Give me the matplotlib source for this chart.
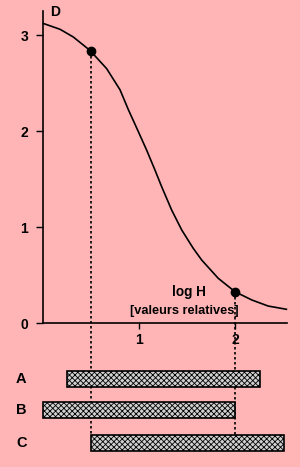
import matplotlib
matplotlib.use("Agg")
import matplotlib.pyplot as plt

plt.rcParams['font.family'] = ['Liberation Sans', 'DejaVu Sans']
plt.rcParams['hatch.linewidth'] = 0.6

# Curve D vs log H
log_h = [0.0, 0.172, 0.31, 0.484, 0.658, 0.797, 0.883, 0.9875, 1.075, 1.161,
         1.231, 1.335, 1.44, 1.56, 1.648, 1.82, 1.995, 2.17, 2.34, 2.53]
density = [3.12, 3.06, 2.98, 2.84, 2.65, 2.43, 2.225, 1.995, 1.80, 1.594,
           1.42, 1.177, 0.969, 0.778, 0.656, 0.466, 0.326, 0.24, 0.177, 0.143]

# Marked points
pts_x = [0.49, 2.0]
pts_y = [2.835, 0.322]

# Ranges (bars)
bar_labels = ['A', 'B', 'C']
bar_start = [0.245, 0.0, 0.49]
bar_end = [2.255, 2.0, 2.51]

y_ticks = [0, 1, 2, 3]
x_ticks = [1, 2]

bg = '#ffb5b5'
fig = plt.figure(figsize=(3.0, 4.67), dpi=100, facecolor=bg)
ax = fig.add_axes([0, 0, 1, 1], facecolor=bg)
ax.set_xlim(-0.453, 2.672)
ax.set_ylim(-1.5, 3.365)

for s in ['top', 'right']:
    ax.spines[s].set_visible(False)
ax.spines['left'].set_position(('data', 0))
ax.spines['bottom'].set_position(('data', 0))
ax.spines['left'].set_bounds(0, 3.25)
ax.spines['bottom'].set_bounds(0, 2.54)
ax.spines['left'].set_linewidth(1.2)
ax.spines['bottom'].set_linewidth(1.2)

ax.set_yticks(y_ticks)
ax.set_yticklabels([str(t) for t in y_ticks], fontsize=10, fontweight='bold')
ax.set_xticks(x_ticks)
ax.set_xticklabels([str(t) for t in x_ticks], fontsize=10, fontweight='bold')
ax.tick_params(axis='y', direction='out', length=5, width=1.0, pad=6)
ax.tick_params(axis='x', direction='out', length=4, width=1.0, pad=3)

ax.plot(log_h, density, color='black', lw=1.2, zorder=3, solid_joinstyle='round')
ax.plot(pts_x, pts_y, 'o', color='black', ms=6, zorder=4)

# dotted guide lines
bar_h = 0.167
bar_y = [-0.58, -0.911, -1.25]
low = bar_y[2] + bar_h / 2
for x, y in zip(pts_x, pts_y):
    ax.plot([x, x], [y, low], color='black', lw=1.2, ls=(0, (1.5, 1.5)),
            zorder=1, clip_on=False)

ax.barh(bar_y, [e - s for s, e in zip(bar_start, bar_end)], left=bar_start,
        height=bar_h, facecolor='#d0d0d0', edgecolor='black', linewidth=1.2,
        hatch='xxxxxx', zorder=2)
for lab, y in zip(bar_labels, bar_y):
    ax.text(-0.23, y, lab, fontsize=10.5, fontweight='bold', ha='center', va='center')

ax.text(0.12, 3.24, 'D', fontsize=10, fontweight='bold', ha='center', va='center')
ax.text(1.51, 0.32, 'log H', fontsize=9.8, fontweight='bold', ha='center', va='center')
ax.text(1.465, 0.12, '[valeurs relatives]', fontsize=9.2, fontweight='bold',
        ha='center', va='center')

fig.savefig('out.png', dpi=100, facecolor=bg)
